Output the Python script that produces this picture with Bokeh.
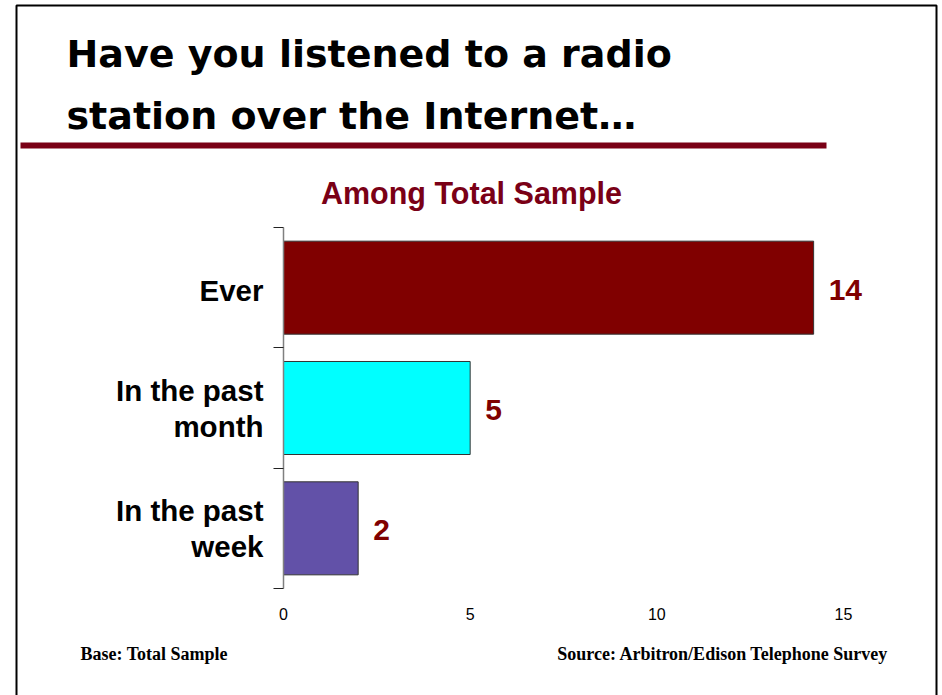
from bokeh.plotting import figure
from bokeh.models import (Range1d, FixedTicker, Label, LabelSet, ColumnDataSource,
                          PolyAnnotation, LinearAxis, CustomLabelingPolicy)
from bokeh.core.properties import value
from bokeh.embed import file_html
from bokeh.resources import INLINE

# ---- data ----
categories = ["Ever", "In the past\nmonth", "In the past\nweek"]
values = [14.2, 5.0, 2.0]
value_labels = ["14", "5", "2"]
bar_colors = ["#800000", "#00FFFF", "#6251A8"]
x_ticks = [0, 5, 10, 15]
title_lines = ["Have you listened to a radio", "station over the Internet\u2026"]
subtitle = "Among Total Sample"
base_note = "Base: Total Sample"
source_note = "Source: Arbitron/Edison Telephone Survey"

# ---- layout (pixels of the chart area inside the 942x695 page) ----
W, H = 942, 695
FL, FR, FT, FB = 283, 843, 227, 588
XMAX = 15
NCAT = len(categories)
SX = (FR - FL) / XMAX      # px per x unit
SY = (FB - FT) / NCAT      # px per category band
BASE_FIX = 0.35            # baseline correction (fraction of font size)


def dx(px):
    return (px - FL) / SX


def dy(py):
    return (FB - py) / SY


def text_label(txt, px, base_py, size, font, color, align="left"):
    return Label(x=dx(px), y=dy(base_py - BASE_FIX * size), text=txt,
                 text_baseline="alphabetic", text_align=align, text_font=font,
                 text_font_style="bold", text_font_size=f"{size}px", text_color=color)


ypos = [NCAT - 0.5 - i for i in range(NCAT)]

p = figure(width=W, height=H, title=None,
           x_range=Range1d(dx(0), dx(W)), y_range=Range1d(dy(H), dy(0)),
           x_axis_location=None, y_axis_location=None,
           output_backend="svg", toolbar_location=None,
           min_border_left=0, min_border_right=0, min_border_top=0, min_border_bottom=0)
p.background_fill_color = "white"
p.border_fill_color = "white"
p.outline_line_color = None
p.grid.grid_line_color = None

src = ColumnDataSource(dict(y=ypos, v=values, c=bar_colors, lab=value_labels))
p.hbar(y="y", left=0, right="v", height=0.773, fill_color="c", line_color="#333333",
       line_width=1, source=src)

# axes placed at the chart's origin
yaxis = LinearAxis(ticker=FixedTicker(ticks=list(range(NCAT + 1))), fixed_location=0,
                   bounds=(0, NCAT))
yaxis.major_label_policy = CustomLabelingPolicy(
    code="for (const i of indices) { indices.unset(i) } return indices")
yaxis.major_tick_out = 10
yaxis.major_tick_in = 0
yaxis.minor_tick_line_color = None
yaxis.axis_line_color = "#808080"
yaxis.axis_line_width = 1.5
yaxis.major_tick_line_color = "#222222"
p.add_layout(yaxis, "left")

xaxis = LinearAxis(ticker=FixedTicker(ticks=x_ticks), fixed_location=0, bounds=(0, XMAX))
xaxis.axis_line_color = None
xaxis.major_tick_line_color = None
xaxis.minor_tick_line_color = None
xaxis.major_tick_out = 0
xaxis.major_label_standoff = 19
xaxis.major_label_text_font = "Liberation Sans"
xaxis.major_label_text_font_size = "16px"
xaxis.major_label_text_color = "black"
p.add_layout(xaxis, "below")

# value labels
p.add_layout(LabelSet(x="v", y="y", text="lab", source=src, x_offset=15, y_offset=-2,
                      text_baseline="middle", text_align="left",
                      text_font=value("Liberation Sans"), text_font_style="bold",
                      text_font_size="30px", text_color="#800000"))

# category labels: one right-aligned entry per text line
LINE_H = 36
cat_y, cat_t = [], []
for yc, cat in zip(ypos, categories):
    lines = cat.split("\n")
    n = len(lines)
    for j, ln in enumerate(lines):
        shift_px = (j - (n - 1) / 2) * LINE_H - (n - 1) * 2.5
        cat_y.append(yc - shift_px / SY)
        cat_t.append(ln)
cat_src = ColumnDataSource(dict(x=[0] * len(cat_t), y=cat_y, t=cat_t))
p.add_layout(LabelSet(x="x", y="y", text="t", source=cat_src, x_offset=-20, y_offset=-3,
                      text_baseline="middle", text_align="right",
                      text_font=value("Liberation Sans"), text_font_style="bold",
                      text_font_size="29.5px", text_color="black"))

# frame border and red rule
p.add_layout(PolyAnnotation(xs=[dx(16), dx(16), dx(936), dx(936)],
                            ys=[dy(720), dy(5), dy(5), dy(720)],
                            fill_alpha=0, line_color="black", line_alpha=1, line_width=2))
p.add_layout(PolyAnnotation(xs=[dx(20), dx(826), dx(826), dx(20)],
                            ys=[dy(142), dy(142), dy(148), dy(148)],
                            fill_color="#7A0016", fill_alpha=1, line_color=None))

# title
for txt, base in zip(title_lines, [67, 129]):
    p.add_layout(text_label(txt, 66, base, 38, "DejaVu Sans", "black"))

p.add_layout(text_label(subtitle, 471, 203, 30.5, "Liberation Sans", "#7A0016", "center"))
p.add_layout(text_label(base_note, 80, 660, 18, "Liberation Serif", "black"))
p.add_layout(text_label(source_note, 888, 660, 18, "Liberation Serif", "black", "right"))

open("out.html", "w").write(file_html(p, INLINE))
